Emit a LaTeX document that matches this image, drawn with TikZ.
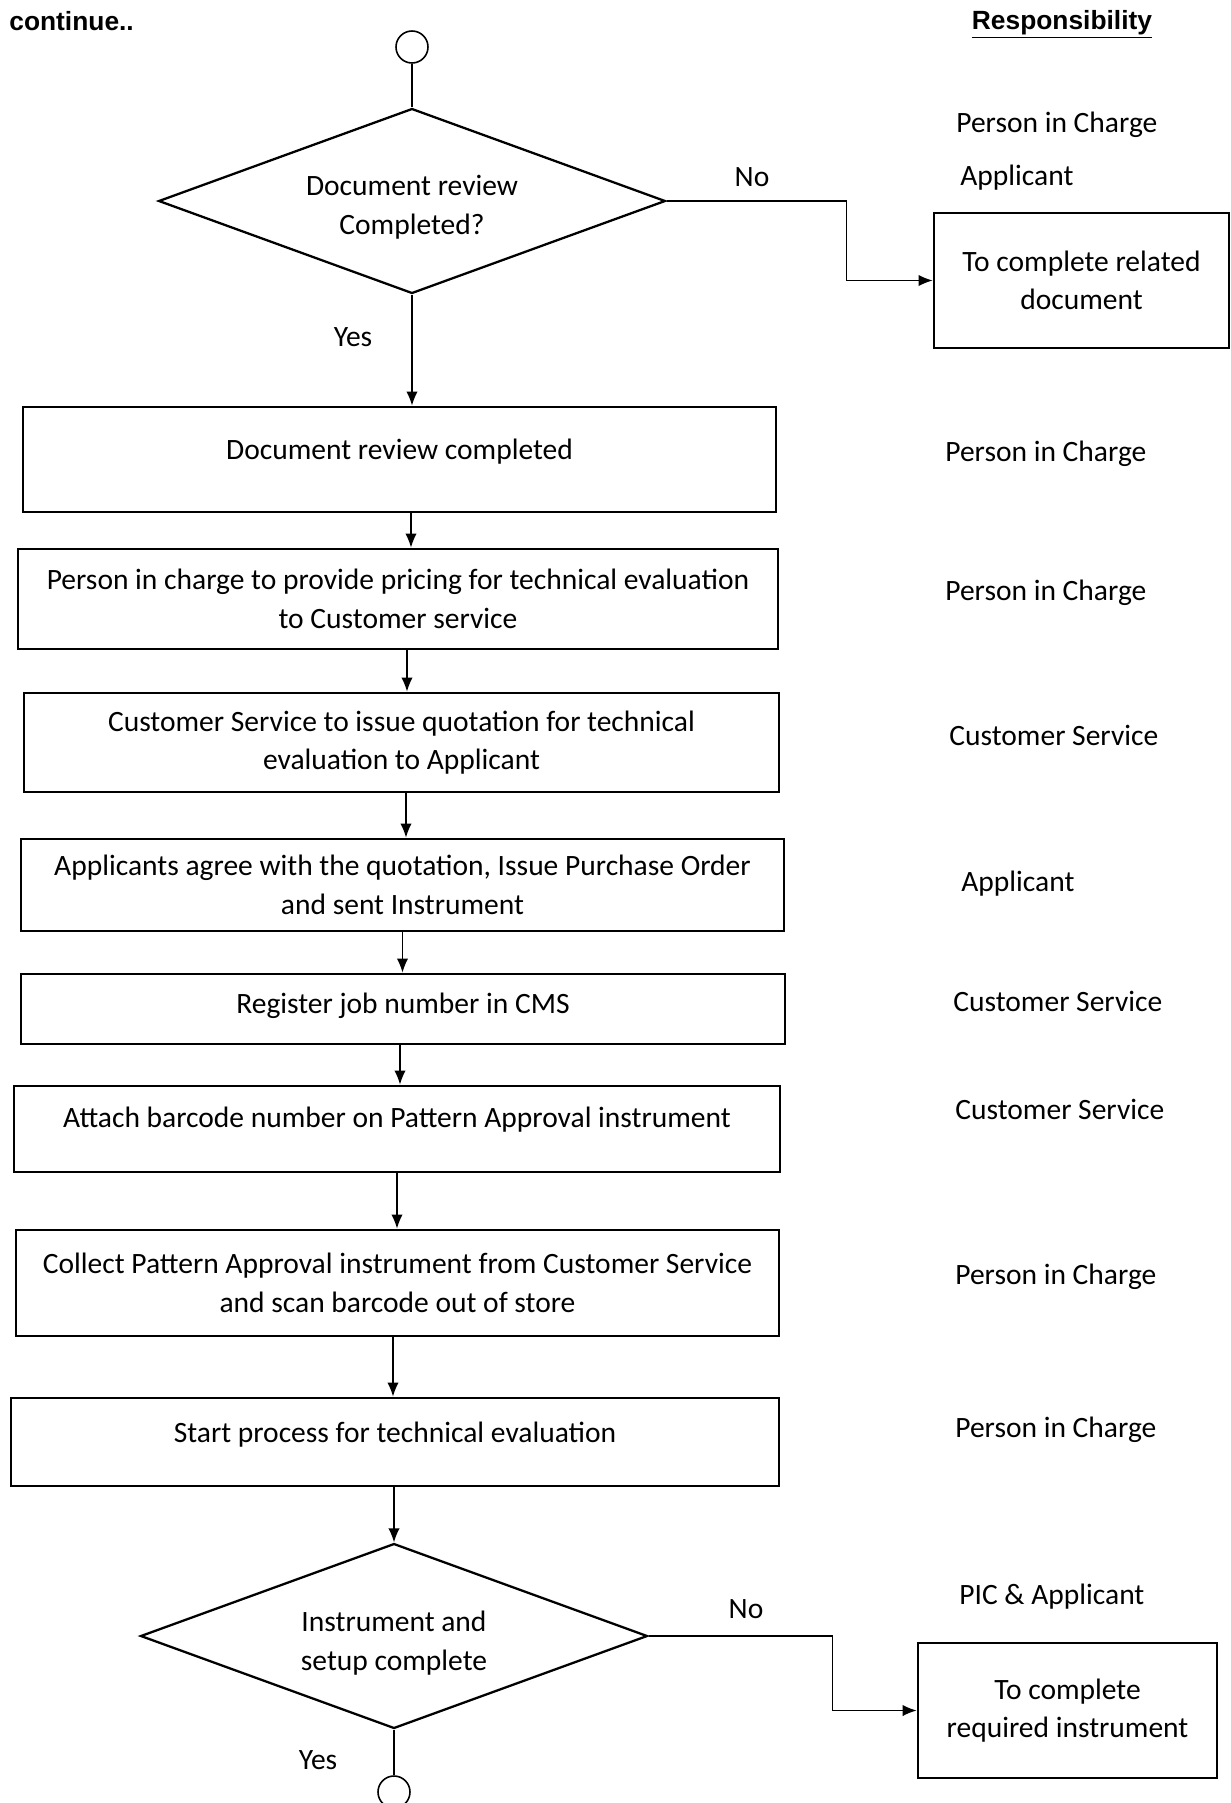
\documentclass[tikz,border=0pt]{standalone}
\usepackage{fontspec}
\setmainfont{Carlito}
\newfontfamily\headfont{Liberation Sans}
\usetikzlibrary{shapes.geometric,arrows.meta}

\tikzset{
  procbox/.style={draw, line width=1.6pt, rectangle, align=center, inner sep=0pt},
  decision/.style={draw, line width=1.3pt, diamond, aspect=2.7, minimum width=10.14cm, minimum height=3.7cm, inner sep=0pt},
  joint/.style={draw, line width=0.9pt, circle, minimum size=0.64cm, inner sep=0pt},
  flow/.style={line width=0.8pt, -{Latex[length=8pt,width=6.5pt]}},
  plain/.style={line width=0.8pt},
  resp/.style={anchor=west, inner sep=0pt},
}

\begin{document}
\begin{tikzpicture}[x=0.02cm, y=-0.02cm, font=\fontsize{16.8}{22}\selectfont]

\useasboundingbox (0,0) rectangle (1231,1803);

\node[anchor=west, inner sep=0pt, font=\headfont\bfseries\fontsize{15}{18}\selectfont] (cont) at (9,21) {continue..};
\node[inner sep=0pt, font=\headfont\bfseries\fontsize{15}{18}\selectfont] (resphead) at (1062,24) {\underline{Responsibility}};

\node[joint] (c1) at (412,47) {};
\node[decision] (d1) at (412,201) {};
\node[align=center] (d1txt) at ([yshift=-0.13cm]d1.center) {Document review\\Completed?};
\node[procbox, minimum width=5.9cm, minimum height=2.7cm] (nb1) at (1081.5,280.5) {To complete related\\document};

\node[procbox, minimum width=15.06cm, minimum height=2.1cm, text depth=0.43cm] (b1) at (399.5,459.5) {Document review completed};
\node[procbox, minimum width=15.2cm, minimum height=2.0cm] (b2) at (398,599) {Person in charge to provide pricing for technical evaluation\\to Customer service};
\node[procbox, minimum width=15.1cm, minimum height=1.98cm] (b3) at (401.5,742.5) {Customer Service to issue quotation for technical\\evaluation to Applicant};
\node[procbox, minimum width=15.26cm, minimum height=1.84cm] (b4) at (402.5,885) {Applicants agree with the quotation, Issue Purchase Order\\and sent Instrument};
\node[procbox, minimum width=15.28cm, minimum height=1.4cm, text depth=0.22cm] (b5) at (403,1009) {Register job number in CMS};
\node[procbox, minimum width=15.32cm, minimum height=1.72cm, text depth=0.47cm] (b6) at (397,1129) {Attach barcode number on Pattern Approval instrument};
\node[procbox, minimum width=15.26cm, minimum height=2.12cm] (b7) at (397.5,1283) {Collect Pattern Approval instrument from Customer Service\\and scan barcode out of store};
\node[procbox, minimum width=15.36cm, minimum height=1.76cm, text depth=0.41cm] (b8) at (395,1442) {Start process for technical evaluation};

\node[decision] (d2) at (394,1636) {};
\node[align=center] (d2txt) at ([yshift=-0.14cm]d2.center) {Instrument and\\setup complete};
\node[procbox, minimum width=5.98cm, minimum height=2.7cm] (nb2) at (1067.5,1710.5) {To complete\\required instrument};
\node[joint] (c2) at (394,1792) {};

% yes / no labels
\node (no1) at (752,177) {No};
\node (yes1) at (353,337) {Yes};
\node (no2) at (746,1609) {No};
\node (yes2) at (318,1760) {Yes};

% responsibility column
\node[resp] (r0a) at (956,125) {Person in Charge};
\node[resp] (r0b) at (960,178) {Applicant};
\node[resp] (r1) at (945,454) {Person in Charge};
\node[resp] (r2) at (945,593) {Person in Charge};
\node[resp] (r3) at (949,735) {Customer Service};
\node[resp] (r4) at (961,884) {Applicant};
\node[resp] (r5) at (953,1001) {Customer Service};
\node[resp] (r6) at (955,1109) {Customer Service};
\node[resp] (r7) at (955,1277) {Person in Charge};
\node[resp] (r8) at (955,1430) {Person in Charge};
\node[resp] (r9) at (959,1597) {PIC \& Applicant};

% connectors
\draw[plain] (c1) -- (d1.north);
\draw[flow] (d1.south) -- (d1.south |- b1.north);
\draw[flow] (d1.east) -- ++(180,0) |- (nb1.west);
\draw[flow] ([xshift=0.23cm]b1.south) -- ([xshift=0.23cm]b1.south |- b2.north);
\draw[flow] ([xshift=0.18cm]b2.south) -- ([xshift=0.18cm]b2.south |- b3.north);
\draw[flow] ([xshift=0.09cm]b3.south) -- ([xshift=0.09cm]b3.south |- b4.north);
\draw[flow] (b4.south) -- (b4.south |- b5.north);
\draw[flow] ([xshift=-0.06cm]b5.south) -- ([xshift=-0.06cm]b5.south |- b6.north);
\draw[flow] (b6.south) -- (b6.south |- b7.north);
\draw[flow] ([xshift=-0.09cm]b7.south) -- ([xshift=-0.09cm]b7.south |- b8.north);
\draw[flow] (b8.south -| d2.north) -- (d2.north);
\draw[flow] (d2.east) -- ++(184,0) |- (nb2.west);
\draw[plain] (d2.south) -- (c2);

\end{tikzpicture}
\end{document}
